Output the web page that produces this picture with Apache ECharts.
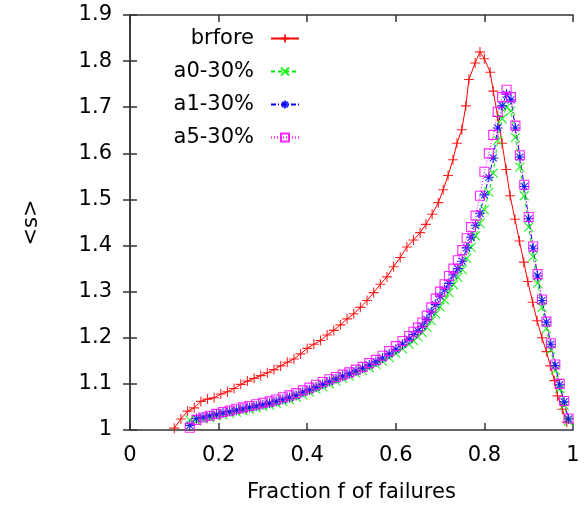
<!DOCTYPE html>
<html>
<head>
<meta charset="utf-8">
<script src="https://cdn.jsdelivr.net/npm/echarts@6/dist/echarts.min.js"></script>
<style>
  html, body { margin: 0; padding: 0; background: #fff; }
  #chart { width: 588px; height: 508px; }
</style>
</head>
<body>
<div id="chart"></div>
<script>
// Mean cluster size <s> versus the fraction f of failed nodes.
const seriesNames = ['brfore', 'a0-30%', 'a1-30%', 'a5-30%'];

// "brfore" curve
const beforeF = [0.100, 0.115, 0.130, 0.145, 0.160, 0.175, 0.190, 0.205, 0.220, 0.235,
  0.250, 0.265, 0.280, 0.295, 0.310, 0.325, 0.340, 0.355, 0.370, 0.385,
  0.400, 0.415, 0.430, 0.445, 0.460, 0.475, 0.490, 0.505, 0.520, 0.535,
  0.550, 0.565, 0.580, 0.595, 0.610, 0.625, 0.640, 0.655, 0.668, 0.682,
  0.696, 0.707, 0.718, 0.729, 0.738, 0.749, 0.758, 0.765, 0.779, 0.790,
  0.800, 0.813, 0.820, 0.830, 0.840, 0.849, 0.858, 0.869, 0.879, 0.889,
  0.898, 0.909, 0.919, 0.930, 0.940, 0.949, 0.958, 0.965, 0.976, 0.986];
const beforeS = [1.004, 1.024, 1.041, 1.048, 1.062, 1.067, 1.070, 1.078, 1.083, 1.090,
  1.099, 1.106, 1.112, 1.118, 1.124, 1.131, 1.139, 1.147, 1.154, 1.165,
  1.177, 1.186, 1.194, 1.206, 1.216, 1.228, 1.241, 1.252, 1.266, 1.281,
  1.298, 1.316, 1.332, 1.354, 1.374, 1.397, 1.412, 1.428, 1.446, 1.468,
  1.493, 1.521, 1.552, 1.586, 1.622, 1.651, 1.703, 1.760, 1.796, 1.820,
  1.805, 1.776, 1.735, 1.680, 1.622, 1.565, 1.508, 1.457, 1.410, 1.364,
  1.322, 1.277, 1.237, 1.200, 1.170, 1.139, 1.107, 1.074, 1.045, 1.017];

// shared f values of the three "-30%" curves
const afterF = [0.135, 0.150, 0.165, 0.180, 0.195, 0.210, 0.225, 0.240, 0.255, 0.270,
  0.285, 0.300, 0.315, 0.330, 0.345, 0.360, 0.375, 0.390, 0.405, 0.420,
  0.435, 0.450, 0.465, 0.480, 0.495, 0.510, 0.525, 0.540, 0.555, 0.570,
  0.585, 0.600, 0.615, 0.630, 0.640, 0.650, 0.660, 0.670, 0.680, 0.690,
  0.700, 0.710, 0.720, 0.730, 0.740, 0.750, 0.760, 0.770, 0.780, 0.790,
  0.800, 0.810, 0.820, 0.830, 0.840, 0.850, 0.860, 0.870, 0.880, 0.890,
  0.900, 0.910, 0.920, 0.930, 0.940, 0.950, 0.960, 0.970, 0.980, 0.990];

const a0S = [1.022, 1.020, 1.024, 1.027, 1.030, 1.033, 1.036, 1.039, 1.042, 1.045,
  1.048, 1.051, 1.054, 1.058, 1.062, 1.066, 1.071, 1.076, 1.082, 1.088,
  1.094, 1.100, 1.106, 1.112, 1.117, 1.123, 1.129, 1.135, 1.142, 1.149,
  1.157, 1.166, 1.176, 1.186, 1.194, 1.202, 1.211, 1.223, 1.237, 1.252,
  1.267, 1.282, 1.298, 1.315, 1.331, 1.348, 1.372, 1.396, 1.421, 1.448,
  1.478, 1.516, 1.557, 1.628, 1.675, 1.700, 1.692, 1.634, 1.570, 1.508,
  1.440, 1.376, 1.318, 1.266, 1.220, 1.174, 1.130, 1.090, 1.054, 1.019];

const a1S = [1.010, 1.025, 1.028, 1.031, 1.034, 1.037, 1.040, 1.043, 1.046, 1.049,
  1.052, 1.055, 1.058, 1.062, 1.066, 1.070, 1.075, 1.082, 1.087, 1.093,
  1.099, 1.105, 1.111, 1.117, 1.122, 1.128, 1.134, 1.141, 1.148, 1.156,
  1.165, 1.175, 1.186, 1.197, 1.207, 1.215, 1.225, 1.240, 1.256, 1.272,
  1.290, 1.304, 1.318, 1.336, 1.350, 1.366, 1.395, 1.418, 1.444, 1.470,
  1.510, 1.548, 1.590, 1.655, 1.703, 1.728, 1.716, 1.655, 1.592, 1.528,
  1.458, 1.394, 1.334, 1.281, 1.234, 1.186, 1.140, 1.098, 1.061, 1.024];

const a5S = [1.005, 1.022, 1.027, 1.031, 1.035, 1.039, 1.042, 1.046, 1.049, 1.052,
  1.056, 1.059, 1.062, 1.066, 1.071, 1.075, 1.080, 1.086, 1.092, 1.098,
  1.104, 1.110, 1.115, 1.120, 1.125, 1.131, 1.137, 1.145, 1.152, 1.161,
  1.171, 1.182, 1.193, 1.204, 1.213, 1.222, 1.233, 1.248, 1.266, 1.285,
  1.300, 1.316, 1.334, 1.350, 1.368, 1.390, 1.416, 1.440, 1.465, 1.508,
  1.560, 1.600, 1.640, 1.690, 1.722, 1.738, 1.722, 1.660, 1.596, 1.532,
  1.462, 1.398, 1.338, 1.283, 1.235, 1.188, 1.142, 1.100, 1.063, 1.025];

// axis ranges and tick spacing
const xRange = [0, 1], xStep = 0.2;
const yRange = [1, 1.9], yStep = 0.1;

const pairs = (xs, ys) => xs.map((x, i) => [x, ys[i]]);

const FONT = 'DejaVu Sans';
const FONT_SIZE = 21;
// stroke-only point markers: plus, cross, asterisk, open square
const plusPath = 'path://M0,5L10,5M5,0L5,10';
const crossPath = 'path://M0,0L10,10M0,10L10,0';
const starPath = 'path://M0,5L10,5M5,0L5,10M1.5,1.5L8.5,8.5M1.5,8.5L8.5,1.5';
const boxPath = 'path://M0,0L10,0L10,10L0,10Z';

function lineSeries(name, data, color, symbol, size, dash) {
  return {
    name: name,
    type: 'line',
    data: data,
    symbol: symbol,
    symbolSize: size,
    showAllSymbol: true,
    showSymbol: true,
    clip: true,
    lineStyle: { color: color, width: 1, type: dash },
    itemStyle: { color: 'rgba(0,0,0,0)', borderColor: color, borderWidth: 1.1, opacity: 0.85 },
    emphasis: { disabled: true }
  };
}

const axisLineStyle = { color: '#333', width: 1.5 };

function xAxisDef(pos, labels) {
  return {
    type: 'value', position: pos, min: xRange[0], max: xRange[1], interval: xStep,
    name: labels ? 'Fraction f of failures' : '',
    nameLocation: 'middle', nameGap: 52,
    nameTextStyle: { fontFamily: FONT, fontSize: FONT_SIZE, color: '#000' },
    axisLine: { show: true, lineStyle: axisLineStyle },
    axisTick: { show: true, inside: true, length: 7, lineStyle: axisLineStyle },
    axisLabel: { show: labels, fontFamily: FONT, fontSize: FONT_SIZE, color: '#000', margin: 15 },
    splitLine: { show: false }
  };
}
function yAxisDef(pos, labels) {
  return {
    type: 'value', position: pos, min: yRange[0], max: yRange[1], interval: yStep,
    name: labels ? '<s>' : '',
    nameLocation: 'middle', nameGap: 88, nameRotate: 90,
    nameTextStyle: { fontFamily: FONT, fontSize: FONT_SIZE, color: '#000' },
    axisLine: { show: true, lineStyle: axisLineStyle },
    axisTick: { show: true, inside: true, length: 7, lineStyle: axisLineStyle },
    axisLabel: { show: labels, fontFamily: FONT, fontSize: FONT_SIZE, color: '#000', margin: 18 },
    splitLine: { show: false }
  };
}

const chart = echarts.init(document.getElementById('chart'), null, { renderer: 'canvas' });
chart.setOption({
  animation: false,
  backgroundColor: '#fff',
  grid: { left: 130, right: 15, top: 15, bottom: 77, containLabel: false },
  xAxis: [xAxisDef('bottom', true), xAxisDef('top', false)],
  yAxis: [yAxisDef('left', true), yAxisDef('right', false)],
  legend: {
    orient: 'vertical', align: 'right', right: 288, top: 28, padding: 0,
    itemGap: 12, itemWidth: 28, itemHeight: 10,
    textStyle: { fontFamily: FONT, fontSize: FONT_SIZE, color: '#000', padding: [0, 12, 0, 0] },
    data: seriesNames
  },
  series: [
    lineSeries(seriesNames[0], pairs(beforeF, beforeS), '#ff0000', plusPath, 10, 'solid'),
    lineSeries(seriesNames[1], pairs(afterF, a0S), '#00ee00', crossPath, 9, [4, 3]),
    lineSeries(seriesNames[2], pairs(afterF, a1S), '#0000ff', starPath, 10, [5, 2, 1, 2]),
    lineSeries(seriesNames[3], pairs(afterF, a5S), '#ff00ff', boxPath, 9, [1, 2])
  ]
});
</script>
</body>
</html>
